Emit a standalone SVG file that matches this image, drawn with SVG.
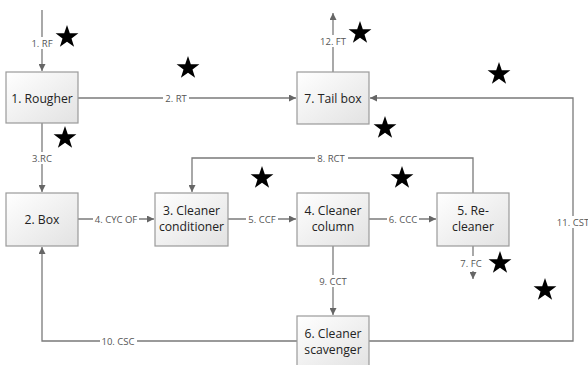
<svg xmlns="http://www.w3.org/2000/svg" width="588" height="365" viewBox="0 0 588 365">
<style>
.box{fill:url(#g);stroke:#9a9a9a;stroke-width:1.2}
.nt{font-family:"Open Sans","Liberation Sans",sans-serif;font-size:12.2px;fill:#222;text-anchor:middle}
.ln{fill:none;stroke:#7a7a7a;stroke-width:1.3}
.bg{fill:#fff}
.lb{font-family:"Open Sans","Liberation Sans",sans-serif;font-size:9.5px;fill:#555;text-anchor:middle}
</style>
<defs>
<linearGradient id="g" x1="0" y1="0" x2="1" y2="1">
<stop offset="0" stop-color="#ffffff"/>
<stop offset="1" stop-color="#e2e2e2"/>
</linearGradient>
<marker id="a" viewBox="0 0 10 10" refX="10" refY="5" markerWidth="7" markerHeight="7" markerUnits="userSpaceOnUse" orient="auto">
<path d="M0,0 L10,5 L0,10 z" fill="#666"/>
</marker>
<path id="star" d="M0,-12 L2.8,-3.8 L11.4,-3.7 L4.5,1.4 L7.1,9.7 L0,4.7 L-7.1,9.7 L-4.5,1.4 L-11.4,-3.7 L-2.8,-3.8 Z" fill="#000"/>
</defs>
<g id="connectors">
<path class="ln" d="M42,10 V71" marker-end="url(#a)"/>
<path class="ln" d="M78,98 H296" marker-end="url(#a)"/>
<path class="ln" d="M333,72 V13" marker-end="url(#a)"/>
<path class="ln" d="M42,123 V192" marker-end="url(#a)"/>
<path class="ln" d="M78,219 H154" marker-end="url(#a)"/>
<path class="ln" d="M228,219 H296" marker-end="url(#a)"/>
<path class="ln" d="M369,219 H436" marker-end="url(#a)"/>
<path class="ln" d="M473,193 V158 H192 V192" marker-end="url(#a)"/>
<path class="ln" d="M333,246 V315" marker-end="url(#a)"/>
<path class="ln" d="M473,246 V256"/>
<path class="ln" d="M473,271 V279" marker-end="url(#a)"/>
<path class="ln" d="M297,341 H42 V247" marker-end="url(#a)"/>
<path class="ln" d="M369,341 H573 V98 H370" marker-end="url(#a)"/>
<rect class="bg" x="29" y="37" width="26" height="12"/><text class="lb" x="42" y="46.5">1. RF</text>
<rect class="bg" x="163" y="92" width="26" height="12"/><text class="lb" x="176" y="101.5">2. RT</text>
<rect class="bg" x="318" y="35" width="30" height="12"/><text class="lb" x="333" y="44.5">12. FT</text>
<rect class="bg" x="31" y="152" width="22" height="12"/><text class="lb" x="42" y="161.5">3.RC</text>
<rect class="bg" x="93" y="213" width="46" height="12"/><text class="lb" x="116" y="222.5">4. CYC OF</text>
<rect class="bg" x="246" y="213" width="32" height="12"/><text class="lb" x="262" y="222.5">5. CCF</text>
<rect class="bg" x="387" y="213" width="32" height="12"/><text class="lb" x="403" y="222.5">6. CCC</text>
<rect class="bg" x="315" y="152" width="33" height="12"/><text class="lb" x="331" y="161.5">8. RCT</text>
<rect class="bg" x="317" y="275" width="32" height="12"/><text class="lb" x="333" y="284.5">9. CCT</text>
<text class="lb" x="471" y="266.5">7. FC</text>
<rect class="bg" x="100" y="335" width="37" height="12"/><text class="lb" x="118" y="344.5">10. CSC</text>
<rect class="bg" x="555" y="216" width="36" height="12"/><text class="lb" x="573" y="225.5">11. CST</text>
</g>
<g id="n1"><rect class="box" x="6" y="72" width="72" height="51"/><text class="nt" x="42" y="102.5">1. Rougher</text></g>
<g id="n7"><rect class="box" x="297" y="72" width="72" height="52"/><text class="nt" x="333" y="102.5">7. Tail box</text></g>
<g id="n2"><rect class="box" x="6" y="193" width="72" height="53"/><text class="nt" x="42" y="223.5">2. Box</text></g>
<g id="n3"><rect class="box" x="155" y="193" width="73" height="53"/><text class="nt" x="191.5" y="215">3. Cleaner</text><text class="nt" x="191.5" y="231">conditioner</text></g>
<g id="n4"><rect class="box" x="297" y="193" width="72" height="53"/><text class="nt" x="333" y="215">4. Cleaner</text><text class="nt" x="333" y="231">column</text></g>
<g id="n5"><rect class="box" x="437" y="193" width="72" height="53"/><text class="nt" x="473" y="215">5. Re-</text><text class="nt" x="473" y="231">cleaner</text></g>
<g id="n6"><rect class="box" x="297" y="316" width="72" height="53"/><text class="nt" x="333" y="338">6. Cleaner</text><text class="nt" x="333" y="354">scavenger</text></g>
<g id="stars">
<use href="#star" x="67" y="37"/>
<use href="#star" x="188" y="68"/>
<use href="#star" x="65" y="138"/>
<use href="#star" x="360" y="33"/>
<use href="#star" x="499" y="74"/>
<use href="#star" x="385" y="128"/>
<use href="#star" x="262" y="178"/>
<use href="#star" x="402" y="178"/>
<use href="#star" x="500" y="263"/>
<use href="#star" x="545" y="290"/>
</g>
</svg>
